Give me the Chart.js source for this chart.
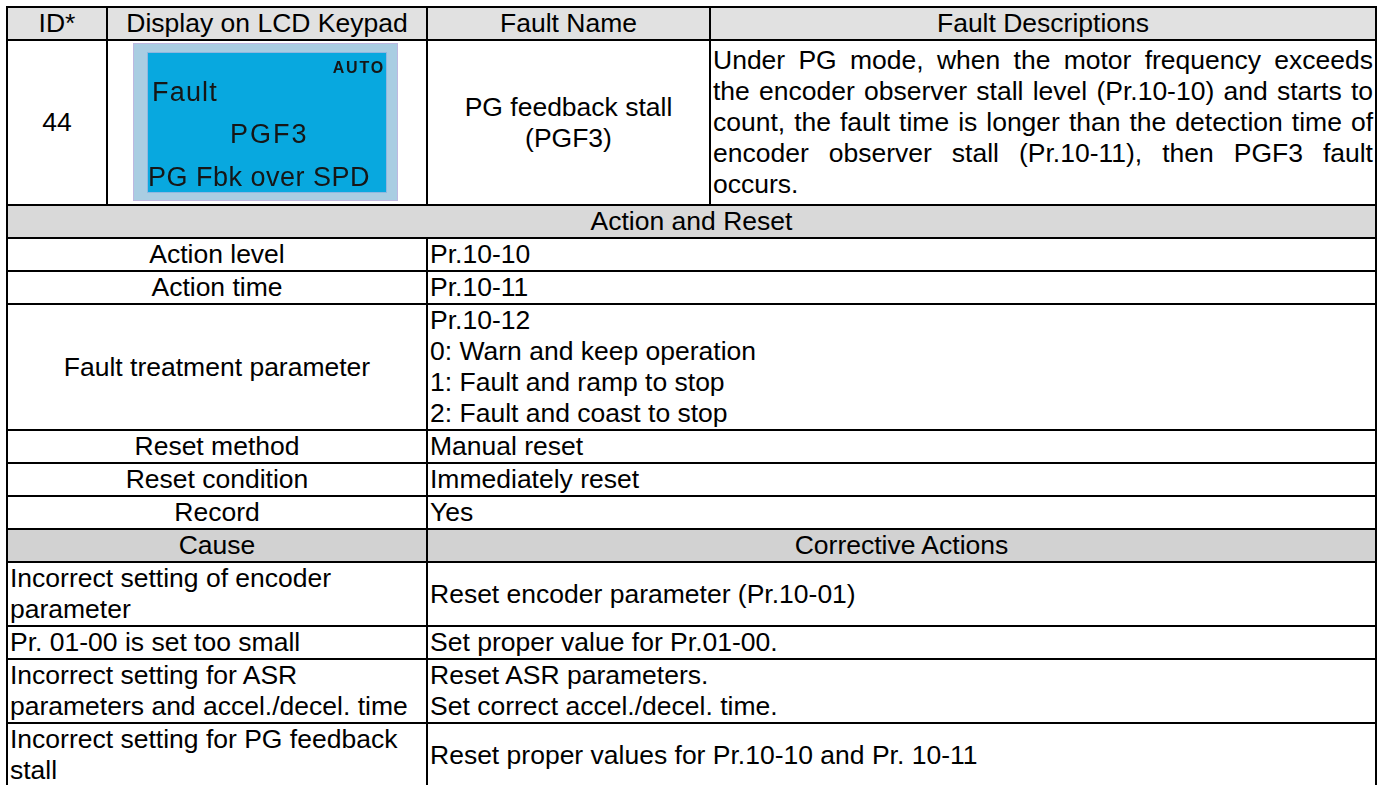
<!DOCTYPE html>
<html>
<head>
<meta charset="utf-8">
<script src="https://cdn.jsdelivr.net/npm/chart.js@4.4.1/dist/chart.umd.min.js"></script>
<style>
  html, body { margin:0; padding:0; background:#fff; width:1389px; height:785px; overflow:hidden; }
  table { position:absolute; left:6px; top:6px; border-collapse:collapse; table-layout:fixed; width:1371px;
          font-family:"Liberation Sans", Arial, sans-serif; font-size:26.5px; line-height:31px; color:#000; }
  td { border:2px solid #000; padding:0 2px; vertical-align:middle; overflow:hidden; box-sizing:border-box; }
  .c { text-align:center; }
  .l { text-align:left; }
  .hdr { background:#e1e1e1; }
  .sec { background:#d9d9d9; }
  .sec2 { background:#d2d2d2; }
  .j { text-align:justify; text-align-last:justify; }
  #lcdWrap { position:absolute; left:133px; top:43px; width:265px; height:158px; }
  #lcdWrap canvas { position:absolute; left:0; top:0; }
  .lcdTxt { position:absolute; font-family:"Liberation Sans", Arial, sans-serif; color:#161616; white-space:nowrap; }
</style>
</head>
<body>
<table id="tbl"></table>
<div id="lcdWrap"><canvas id="lcd" width="265" height="158"></canvas></div>
<script>
// ---- table content ----
const headers = ["ID*", "Display on LCD Keypad", "Fault Name", "Fault Descriptions"];
const faultId = "44";
const lcdTop = "AUTO";
const lcdLines = ["Fault", "PGF3", "PG Fbk over SPD"];
const faultName = ["PG feedback stall", "(PGF3)"];
const descLines = [
  "Under PG mode, when the motor frequency exceeds",
  "the encoder observer stall level (Pr.10-10) and starts to",
  "count, the fault time is longer than the detection time of",
  "encoder observer stall (Pr.10-11), then PGF3 fault",
  "occurs."
];
const sectionTitle = "Action and Reset";
const actionLabels = ["Action level", "Action time", "Fault treatment parameter", "Reset method", "Reset condition", "Record"];
const actionValues = [
  ["Pr.10-10"],
  ["Pr.10-11"],
  ["Pr.10-12", "0: Warn and keep operation", "1: Fault and ramp to stop", "2: Fault and coast to stop"],
  ["Manual reset"],
  ["Immediately reset"],
  ["Yes"]
];
const causeHeaders = ["Cause", "Corrective Actions"];
const causes = [
  ["Incorrect setting of encoder", "parameter"],
  ["Pr. 01-00 is set too small"],
  ["Incorrect setting for ASR", "parameters and accel./decel. time"],
  ["Incorrect setting for PG feedback", "stall"]
];
const corrective = [
  ["Reset encoder parameter (Pr.10-01)"],
  ["Set proper value for Pr.01-00."],
  ["Reset ASR parameters.", "Set correct accel./decel. time."],
  ["Reset proper values for Pr.10-10 and Pr. 10-11"]
];

// ---- build table ----
const tbl = document.getElementById('tbl');
const colW = [100, 320, 283, 666];
const cg = document.createElement('colgroup');
colW.forEach(w => { const c = document.createElement('col'); c.style.width = w + 'px'; cg.appendChild(c); });
tbl.appendChild(cg);

function lines(arr) { return arr.map(s => '<div>' + s + '</div>').join(''); }
function row(h, cells) {
  const tr = document.createElement('tr');
  cells.forEach(c => {
    const td = document.createElement('td');
    td.innerHTML = c.html;
    if (c.cls) td.className = c.cls;
    if (c.span) td.colSpan = c.span;
    td.style.height = h + 'px';
    tr.appendChild(td);
  });
  tbl.appendChild(tr);
}
row(32, headers.map(h => ({html:h, cls:'c hdr'})));
const descHtml = descLines.map((s, i) => '<div class="' + (i < descLines.length - 1 ? 'j' : 'l') + '">' + s + '</div>').join('');
row(165, [
  {html:faultId, cls:'c'},
  {html:'', cls:'c'},
  {html:lines(faultName), cls:'c'},
  {html:descHtml, cls:''}
]);
row(33, [{html:sectionTitle, cls:'c sec', span:4}]);
actionLabels.forEach((lab, i) => {
  const h = actionValues[i].length * 31 + 2;
  row(h, [{html:lab, cls:'c', span:2}, {html:lines(actionValues[i]), cls:'l', span:2}]);
});
row(33, [{html:causeHeaders[0], cls:'c sec2', span:2}, {html:causeHeaders[1], cls:'c sec2', span:2}]);
causes.forEach((cz, i) => {
  const n = Math.max(cz.length, corrective[i].length);
  row(n * 31 + 2, [{html:lines(cz), cls:'l', span:2}, {html:lines(corrective[i]), cls:'l', span:2}]);
});

// ---- LCD keypad panel drawn with Chart.js ----
const lcdPanel = {
  id: 'lcdPanel',
  beforeDraw(chart) {
    const ctx = chart.ctx, w = chart.width, h = chart.height;
    ctx.save();
    ctx.fillStyle = '#a9cde2';
    ctx.fillRect(0, 0, w, h);
    ctx.strokeStyle = '#bdb8e0';
    ctx.lineWidth = 1;
    ctx.strokeRect(0.5, 0.5, w - 1, h - 1);
    ctx.fillStyle = '#08a8df';
    ctx.fillRect(14, 9, 240, 141);
    ctx.strokeStyle = '#8fb7e0';
    ctx.strokeRect(14.5, 9.5, 239, 140);
    ctx.restore();
  }
};
new Chart(document.getElementById('lcd'), {
  type: 'bar',
  data: { labels: [], datasets: [] },
  options: {
    responsive: false, animation: false,
    plugins: { legend: { display: false }, tooltip: { enabled: false } },
    scales: { x: { display: false }, y: { display: false } }
  },
  plugins: [lcdPanel]
});

// LCD texts (real text)
const wrap = document.getElementById('lcdWrap');
function lcdText(t, left, top, size, bold, ls) {
  const d = document.createElement('div');
  d.className = 'lcdTxt';
  d.textContent = t;
  d.style.left = left + 'px'; d.style.top = top + 'px';
  d.style.fontSize = size + 'px'; d.style.lineHeight = size + 'px';
  d.style.fontWeight = bold ? 'bold' : 'normal';
  d.style.letterSpacing = ls + 'px';
  wrap.appendChild(d);
  return d;
}
const auto = lcdText(lcdTop, 0, 17, 16, true, 1.8);
auto.style.left = ''; auto.style.right = '13px';
lcdText(lcdLines[0], 19, 35.5, 27, false, 1.2);
lcdText(lcdLines[1], 97, 77.5, 27, false, 2);
lcdText(lcdLines[2], 15, 120.5, 27, false, 0.5);
</script>
</body>
</html>
